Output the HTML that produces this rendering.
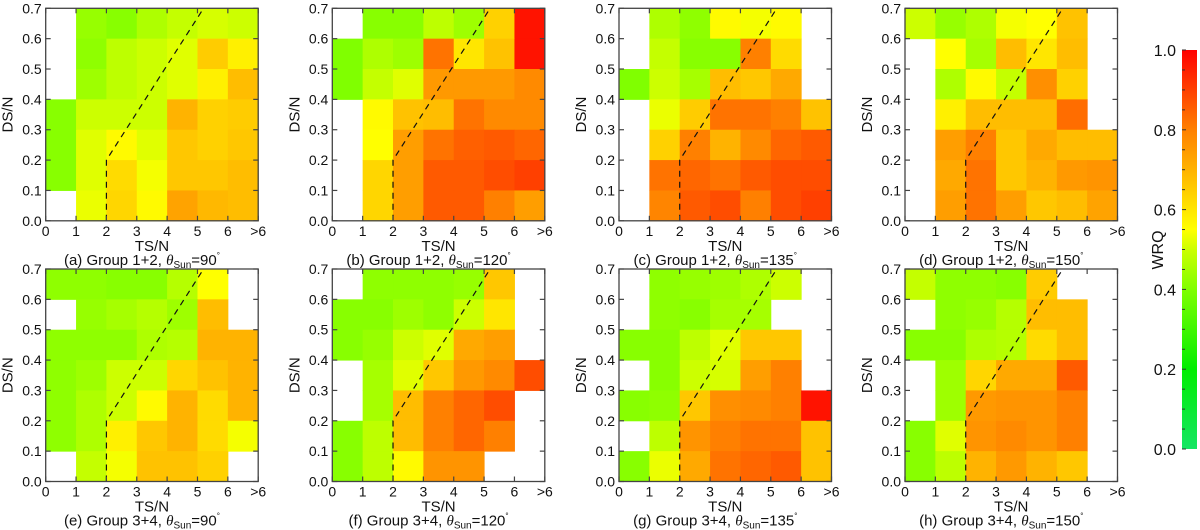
<!DOCTYPE html>
<html><head><meta charset="utf-8"><style>
html,body{margin:0;padding:0;background:#fff;}
svg{display:block;font-family:"Liberation Sans",sans-serif;}
</style></head><body>
<svg id="fig" width="1200" height="530" viewBox="0 0 1200 530" xmlns="http://www.w3.org/2000/svg"></svg>
<script>
// ---- data (rows listed top to bottom: DS/N 0.6-0.7 first; columns TS/N 0..>6) ----
const xTickLabels = ["0","1","2","3","4","5","6",">6"];
const yTickLabels = ["0.0","0.1","0.2","0.3","0.4","0.5","0.6","0.7"];
const cbTickLabels = ["0.0","0.2","0.4","0.6","0.8","1.0"];
const cbTickValues = [0,0.2,0.4,0.6,0.8,1.0];
const panelCaptions = ["(a) Group 1+2, ","(b) Group 1+2, ","(c) Group 1+2, ","(d) Group 1+2, ","(e) Group 3+4, ","(f) Group 3+4, ","(g) Group 3+4, ","(h) Group 3+4, "];
const panelAngles = ["90","120","135","150","90","120","135","150"];
const _ = null;
const wrqA = [[_,.43,.41,.46,.49,.51,.5],[_,.42,.48,.5,.52,.65,.58],[_,.44,.48,.5,.52,.58,.68],[.41,.5,.5,.5,.7,.64,.65],[.41,.52,.56,.52,.66,.64,.66],[.41,.52,.62,.54,.66,.66,.68],[_,.53,.63,.56,.73,.69,.68]];
const wrqB = [[_,.41,.41,.48,.44,.64,.97],[.4,.46,.44,.82,.6,.67,.97],[.4,.49,.52,.75,.75,.75,.78],[_,.56,.67,.68,.82,.78,.78],[_,.55,.74,.82,.85,.86,.84],[_,.63,.74,.86,.86,.88,.9],[_,.63,.74,.86,.86,.8,.74]];
const wrqC = [[_,.46,.42,.56,.54,.56,_],[_,.49,.41,.41,.8,.62,_],[.4,.5,.45,.68,.66,.72,_],[_,.53,.65,.82,.82,.8,.67],[_,.64,.8,.7,.78,.84,.86],[_,.82,.84,.82,.86,.88,.88],[_,.79,.86,.88,.8,.88,.9]];
const wrqD = [[.5,.43,.46,.54,.55,.67,_],[_,.55,.45,.68,.6,.68,_],[_,.46,.56,.49,.77,.64,_],[_,.58,.68,.68,.68,.83,_],[_,.74,.8,.66,.72,.68,.68],[_,.72,.82,.66,.7,.75,.76],[_,.74,.82,.74,.66,.68,.73]];
const wrqE = [[.42,.42,.41,.41,.47,.55,_],[_,.43,.45,.47,.44,.68,_],[.42,.42,.42,.46,.47,.7,.7],[.42,.44,.5,.5,.63,.67,.7],[.42,.46,.5,.56,.7,.62,.7],[.42,.46,.58,.66,.7,.62,.54],[_,.49,.54,.67,.67,.64,_]];
const wrqF = [[_,.42,.42,.42,.43,.66,_],[.41,.41,.44,.42,.5,.6,_],[.41,.43,.5,.52,.72,.74,_],[_,.45,.52,.66,.75,.78,.88],[_,.45,.68,.8,.84,.88,_],[.41,.48,.68,.8,.84,.8,_],[.41,.48,.56,.76,.76,_,_]];
const wrqG = [[_,.42,.43,.44,.46,.5,_],[_,.42,.41,.45,.45,_,_],[.41,.41,.48,.52,.66,.66,_],[_,.41,.5,.51,.74,.8,_],[.41,.42,.66,.77,.78,.8,.97],[_,.48,.76,.8,.82,.82,.67],[.41,.53,.72,.82,.84,.86,.67]];
const wrqH = [[.49,.42,.42,.41,.65,_,_],[_,.42,.43,.47,.68,.68,_],[.41,.41,.46,.47,.62,.68,_],[_,.44,.63,.72,.72,.86,_],[_,.44,.75,.76,.76,.8,_],[.41,.52,.76,.78,.76,.8,_],[.41,.48,.7,.75,.7,.66,_]];
const panelData = [wrqA,wrqB,wrqC,wrqD,wrqE,wrqF,wrqG,wrqH];
const boundaryX = [2,2,5.2];
const boundaryY = [0,0.2,0.7];

const NS="http://www.w3.org/2000/svg";
const svg=document.getElementById('fig');
function mk(tag,attrs,parent){const e=document.createElementNS(NS,tag);for(const k in attrs)e.setAttribute(k,attrs[k]);(parent||svg).appendChild(e);return e;}
const stops=[[0,[20,230,100]],[0.2,[0,238,0]],[0.4,[128,255,0]],[0.5,[204,255,0]],[0.55,[255,255,0]],[0.65,[255,204,0]],[0.8,[255,128,0]],[1,[255,0,0]]];
function cmap(v){v=Math.max(0,Math.min(1,v));for(let i=1;i<stops.length;i++){if(v<=stops[i][0]){const a=stops[i-1],b=stops[i];const t=(v-a[0])/(b[0]-a[0]);const c=a[1].map((x,j)=>Math.round(x+(b[1][j]-x)*t));return `rgb(${c[0]},${c[1]},${c[2]})`;}}return 'rgb(255,0,0)';}

const colX=[45.7,332.3,619,905];
const rowY=[8.3,269];
const W=212.5,H=212.5;
const AX='#444';
for(let p=0;p<8;p++){
  const x0=colX[p%4], y0=rowY[Math.floor(p/4)];
  const g=mk('g',{});
  
  
  const sx=v=>x0+v/7*W, sy=v=>y0+H-v/0.7*H;
  const data=panelData[p];
  for(let r=0;r<7;r++)for(let c=0;c<7;c++){
    const v=data[r][c]; if(v===null)continue;
    const ds=0.6-r*0.1;
    const rc=mk('rect',{x:sx(c),y:sy(ds+0.1),width:sx(c+1)-sx(c)+0.5,height:sy(ds)-sy(ds+0.1)+0.5,fill:cmap(v)},g);
    
    
  }
  let pts=boundaryX.map((bx,i)=>sx(bx)+','+sy(boundaryY[i])).join(' ');
  const pl=mk('polyline',{points:pts,fill:'none',stroke:'#111','stroke-width':1.2,'stroke-dasharray':'6,5'},g);
  
  
  const fr=mk('rect',{x:x0,y:y0,width:W,height:H,fill:'none',stroke:AX,'stroke-width':1.3},g);
  
  
  for(let i=0;i<8;i++){
    const x=sx(i);
    mk('line',{x1:x,y1:y0+H,x2:x,y2:y0+H-5,stroke:AX,'stroke-width':1.2},g);
    mk('line',{x1:x,y1:y0,x2:x,y2:y0+5,stroke:AX,'stroke-width':1.2},g);
    const t=mk('text',{x:x,y:y0+H+15,'text-anchor':'middle','font-size':14,fill:'#111'},g);
    t.textContent=xTickLabels[i];
    
    
    const y=sy(i*0.1);
    mk('line',{x1:x0,y1:y,x2:x0+5,y2:y,stroke:AX,'stroke-width':1.2},g);
    mk('line',{x1:x0+W,y1:y,x2:x0+W-5,y2:y,stroke:AX,'stroke-width':1.2},g);
    const ty=mk('text',{x:x0-4,y:y+5,'text-anchor':'end','font-size':14,fill:'#111'},g);
    ty.textContent=yTickLabels[i];
    
    
  }
  const xt=mk('text',{x:x0+W/2,y:y0+H+30,'text-anchor':'middle','font-size':15,fill:'#111'},g);
  xt.textContent='TS/N';
  
  
  const yt=mk('text',{x:0,y:0,'text-anchor':'middle','font-size':15,fill:'#111',transform:`translate(${x0-33},${y0+H/2}) rotate(-90)`},g);
  yt.textContent='DS/N';
  
  
  const cap=mk('text',{x:x0+W/2-10,y:y0+H+44,'text-anchor':'middle','font-size':15,fill:'#111'},g);
  
  
  cap.appendChild(document.createTextNode(panelCaptions[p]));
  const th=mk('tspan',{'font-style':'italic','font-family':'"Liberation Serif",serif'},cap);th.textContent='θ';
  const sub=mk('tspan',{'font-size':10,dy:3},cap);sub.textContent='Sun';
  const eq=mk('tspan',{dy:-3},cap);eq.textContent='='+panelAngles[p];
  const dg=mk('tspan',{'font-size':8,dy:-7},cap);dg.textContent='°';
}
// colorbar
const cbX=1182,cbW=15,cbTop=50,cbBot=449;
const defs=mk('defs',{});
const lg=mk('linearGradient',{id:'cbg',x1:0,y1:1,x2:0,y2:0},defs);
stops.forEach(s=>mk('stop',{offset:s[0],'stop-color':cmap(s[0])},lg));
const cb=mk('rect',{x:cbX,y:cbTop,width:cbW,height:cbBot-cbTop,fill:'url(#cbg)'});


const cy=v=>cbBot-v*(cbBot-cbTop);
for(let k=0;k<=20;k++){const y=cy(k/20);mk('line',{x1:cbX,y1:y,x2:cbX+(k%4===0?4:3),y2:y,stroke:'#333','stroke-width':1});}
cbTickValues.forEach((v,i)=>{
  const t=mk('text',{x:cbX-6,y:cy(v)+6,'text-anchor':'end','font-size':16,fill:'#111'});
  t.textContent=cbTickLabels[i];
  
  
});
const cbt=mk('text',{x:0,y:0,'text-anchor':'middle','font-size':16,fill:'#111',transform:'translate(1163,250) rotate(-90)'});
cbt.textContent='WRQ';


</script>
</body></html>
